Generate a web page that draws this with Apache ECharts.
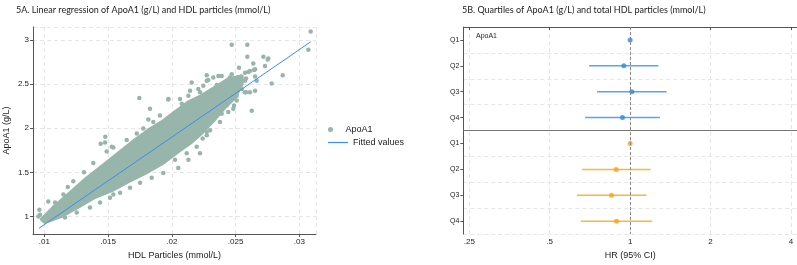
<!DOCTYPE html>
<html><head><meta charset="utf-8">
<script src="https://cdn.jsdelivr.net/npm/echarts@6/dist/echarts.min.js"></script>
<style>html,body{margin:0;padding:0;background:#fff}#c{width:797px;height:265px}</style>
</head><body><div id="c"></div>
<script>
// ---- Panel 5A data ----
const apoaPoints = [
[0.03089,3.094],[0.03071,2.889],[0.0247,2.945],[0.02592,2.945],[0.02718,2.808],[0.02752,2.778],[0.0287,2.599],[0.02783,2.507],[0.02627,2.198],[0.01745,2.343],[0.01973,2.324],[0.01829,2.22],[0.01478,1.904],[0.01442,1.826],[0.00961,1.078],[0.00953,1.003],[0.01031,1.171],[0.01162,0.992],
[0.02639,2.733],[0.02527,2.685],[0.026,2.636],[0.02653,2.666],[0.02286,2.547],[0.02208,2.443],[0.02143,2.424],[0.02365,2.592],[0.02456,2.574],[0.02482,2.518],[0.02582,2.563],[0.02653,2.585],[0.02574,2.406],[0.02509,2.313],[0.02456,2.332],[0.02482,2.22],
[0.02592,2.808],[0.02757,2.789],[0.02731,2.703],[0.02645,2.659],[0.02613,2.647],[0.02574,2.629],
[0.02274,2.536],[0.02325,2.574],[0.02391,2.592],[0.0247,2.611],[0.02352,2.488],[0.02417,2.462],[0.02496,2.499],[0.02548,2.443],[0.02582,2.406],[0.02613,2.406],[0.02653,2.424],[0.02666,2.536],[0.02574,2.536],[0.02509,2.368],[0.0247,2.332],[0.0243,2.257],[0.02488,2.257],[0.02443,2.183],[0.02391,2.164],[0.02378,2.071],[0.023,1.978],[0.02274,1.96],[0.02242,1.885],[0.02195,1.792],[0.02117,1.718],[0.02025,1.643],
[0.02274,2.599],[0.02247,2.48],[0.02156,2.518],[0.02313,2.424],[0.02221,2.406],[0.0213,2.368],[0.02064,2.332],[0.02078,2.276],
[0.01529,1.792],[0.01384,1.606],[0.01311,1.502],[0.01227,1.402],[0.01184,1.335],[0.01149,1.252],[0.01084,1.16],[0.00966,1.022],[0.01254,1.048],[0.01358,1.104],[0.01437,1.16],[0.01515,1.215],[0.01594,1.271],[0.01672,1.327],[0.01751,1.383],[0.01568,1.587],[0.01646,1.662],[0.01725,1.773],[0.01751,1.885],
[0.01907,2.145],[0.01816,2.1],[0.01855,2.071],[0.01776,1.997],[0.01725,1.941],[0.01646,1.866],[0.01541,1.781],[0.01489,1.737],[0.01476,1.84],[0.0213,1.643],[0.02221,1.718],[0.02274,1.922],[0.02051,1.55],[0.01933,1.494],[0.01842,1.439],[0.01541,1.252],[0.01973,2.332]
];
// dense core of the point cloud (outline of overlapping points)
const cloudUpper = [[0.0098,0.970],[0.01084,1.118],[0.01188,1.249],[0.01319,1.416],[0.0145,1.565],[0.0158,1.714],[0.01711,1.863],[0.01816,1.974],[0.01921,2.067],[0.02025,2.179],[0.02129,2.29],[0.02234,2.365],[0.02339,2.458],[0.02443,2.551],[0.02548,2.588]];
const cloudLower = [[0.02548,2.50],[0.02496,2.354],[0.02417,2.243],[0.02339,2.110],[0.02234,1.950],[0.02156,1.850],[0.02051,1.740],[0.01921,1.600],[0.0179,1.495],[0.01659,1.400],[0.01529,1.300],[0.01398,1.225],[0.01267,1.115],[0.01136,1.010],[0.01005,0.94]];
const fittedLine = [[0.00958,0.869],[0.0309,2.978]];

// ---- Panel 5B data ----
const forestCategories = ['A-Q1','A-Q2','A-Q3','A-Q4','H-Q1','H-Q2','H-Q3','H-Q4'];
const forestLabels = ['Q1','Q2','Q3','Q4','Q1','Q2','Q3','Q4'];
const apoaHR = [1, 0.947, 1.015, 0.936];
const apoaLo = [null, 0.702, 0.752, 0.678];
const apoaHi = [null, 1.277, 1.369, 1.292];
const hdlHR = [1, 0.886, 0.852, 0.889];
const hdlLo = [null, 0.661, 0.632, 0.654];
const hdlHi = [null, 1.192, 1.152, 1.209];

const FONT = 'Liberation Sans';
const TFONT = 'Lato';
const dotColor = '#97b5aa';
const fitColor = '#3b8ef0';
const blue = '#2b87f5', blueCI = '#5aa3f7';
const orange = '#ffa00f', orangeCI = '#ffb43a';
const gridDash = {show:true, lineStyle:{color:'#e6e6e6', type:[4,3], width:1}};

function trim(v){ const n = parseFloat(Number(v).toPrecision(6)); return n < 1 ? String(n).replace(/^0/,'') : String(n); }

const ciData = (lo, hi, off) => lo.map((l,i)=> l==null ? null : [l, hi[i], i+off]).filter(d=>d);
const ptData = (hr, off) => hr.map((h,i)=>[h, i+off]);

const chart = echarts.init(document.getElementById('c'), null, {renderer:'canvas'});
const ciRender = (color) => function(params, api){
  const a = api.coord([api.value(0), api.value(2)]);
  const b = api.coord([api.value(1), api.value(2)]);
  return {type:'line', shape:{x1:a[0],y1:a[1],x2:b[0],y2:b[1]}, style:{stroke:color, lineWidth:1.5}};
};

chart.setOption({
  animation:false,
  backgroundColor:'#fff',
  textStyle:{fontFamily:FONT},
  title:[
    {text:'5A. Linear regression of ApoA1 (g/L) and HDL particles (mmol/L)', left:11, top:1, textStyle:{fontFamily:TFONT, fontSize:9, fontWeight:'normal', color:'#222'}},
    {text:'5B. Quartiles of ApoA1 (g/L) and total HDL particles (mmol/L)', left:457, top:1, textStyle:{fontFamily:TFONT, fontSize:9, fontWeight:'normal', color:'#222'}},
    {text:'ApoA1', left:471, top:28, textStyle:{fontFamily:FONT, fontSize:7, fontWeight:'normal', color:'#222'}}
  ],
  legend:[
    {left:323, top:120, orient:'vertical', itemWidth:20, itemHeight:5,
      textStyle:{fontFamily:FONT, fontSize:9, color:'#222'}, data:[{name:'ApoA1', icon:'circle'}]},
    {left:323, top:133, orient:'vertical', itemWidth:20, itemHeight:1.2,
      textStyle:{fontFamily:FONT, fontSize:9, color:'#222'}, data:[{name:'Fitted values', icon:'rect', itemStyle:{color:fitColor}}]}
  ],
  grid:[
    {left:33, top:27, width:283, height:210},
    {left:463.3, top:27, width:333.7, height:210.3}
  ],
  xAxis:[
    {type:'value', gridIndex:0, min:0.00911, max:0.03131,
      name:'HDL Particles (mmol/L)', nameLocation:'middle', nameGap:15, nameTextStyle:{fontSize:9, color:'#222'},
      axisLine:{lineStyle:{color:'#555'}}, axisTick:{length:3, lineStyle:{color:'#555'}},
      axisLabel:{fontSize:8, color:'#222', margin:4, showMinLabel:false, showMaxLabel:false, formatter:trim},
      splitLine:gridDash},
    {type:'log', logBase:2, gridIndex:1, min:0.2374, max:4.212,
      name:'HR (95% CI)', nameLocation:'middle', nameGap:15, nameTextStyle:{fontSize:9, color:'#222'},
      axisLine:{lineStyle:{color:'#555'}}, axisTick:{length:3, lineStyle:{color:'#555'}},
      axisLabel:{fontSize:8, color:'#222', margin:4, showMinLabel:false, showMaxLabel:false, formatter:trim},
      splitLine:gridDash}
  ],
  yAxis:[
    {type:'value', gridIndex:0, min:0.803, max:3.145,
      name:'ApoA1 (g/L)', nameLocation:'middle', nameGap:22, nameTextStyle:{fontSize:9, color:'#222'},
      axisLine:{show:true, lineStyle:{color:'#555'}}, axisTick:{show:true, length:3, lineStyle:{color:'#555'}},
      axisLabel:{fontSize:8, color:'#222', margin:4, showMinLabel:false, showMaxLabel:false},
      splitLine:gridDash},
    {type:'category', gridIndex:1, data:forestCategories, inverse:true, boundaryGap:true,
      axisLine:{show:true, lineStyle:{color:'#555'}}, axisTick:{show:true, alignWithLabel:true, length:3, lineStyle:{color:'#555'}},
      axisLabel:{fontSize:7, color:'#222', margin:4, formatter:(v,i)=>forestLabels[i]},
      splitLine:{show:false}},
    {type:'value', gridIndex:1, min:0, max:8, interval:1, inverse:true, position:'left',
      axisLine:{show:false}, axisTick:{show:false}, axisLabel:{show:false}, splitLine:gridDash}
  ],
  series:[
    {type:'custom', name:'cloud', xAxisIndex:0, yAxisIndex:0, clip:true, silent:true,
      data:[[0.02,2]],
      renderItem:function(params, api){
        const pts = cloudUpper.concat(cloudLower).map(p=>api.coord(p));
        return {type:'polygon', shape:{points:pts}, style:{fill:dotColor, stroke:dotColor, lineWidth:4, lineJoin:'round'}};
      }},
    {type:'scatter', name:'ApoA1', xAxisIndex:0, yAxisIndex:0, data:apoaPoints, symbolSize:4.5,
      itemStyle:{color:dotColor, opacity:1}},
    {type:'line', name:'Fitted values', xAxisIndex:0, yAxisIndex:0, data:fittedLine, showSymbol:false, symbol:'none',
      lineStyle:{color:fitColor, width:1}, itemStyle:{color:fitColor}},
    {type:'line', name:'sep', xAxisIndex:1, yAxisIndex:2, data:[[1,4]], showSymbol:false, symbol:'none', lineStyle:{width:0},
      markLine:{silent:true, symbol:'none', label:{show:false}, lineStyle:{color:'#777', type:'solid', width:1}, data:[{yAxis:4}]}},
    {type:'custom', name:'apoaCI', xAxisIndex:1, yAxisIndex:1, data:ciData(apoaLo, apoaHi, 0), encode:{x:[0,1], y:2}, renderItem:ciRender(blueCI)},
    {type:'custom', name:'hdlCI', xAxisIndex:1, yAxisIndex:1, data:ciData(hdlLo, hdlHi, 4), encode:{x:[0,1], y:2}, renderItem:ciRender(orangeCI)},
    {type:'scatter', name:'apoaHR', xAxisIndex:1, yAxisIndex:1, data:ptData(apoaHR,0), symbolSize:5, itemStyle:{color:blue},
      markLine:{silent:true, symbol:'none', label:{show:false}, lineStyle:{color:'#888', type:[3,2], width:1}, data:[{xAxis:1}]}},
    {type:'scatter', name:'hdlHR', xAxisIndex:1, yAxisIndex:1, data:ptData(hdlHR,4), symbolSize:5, itemStyle:{color:orange}}
  ]
});
</script></body></html>
